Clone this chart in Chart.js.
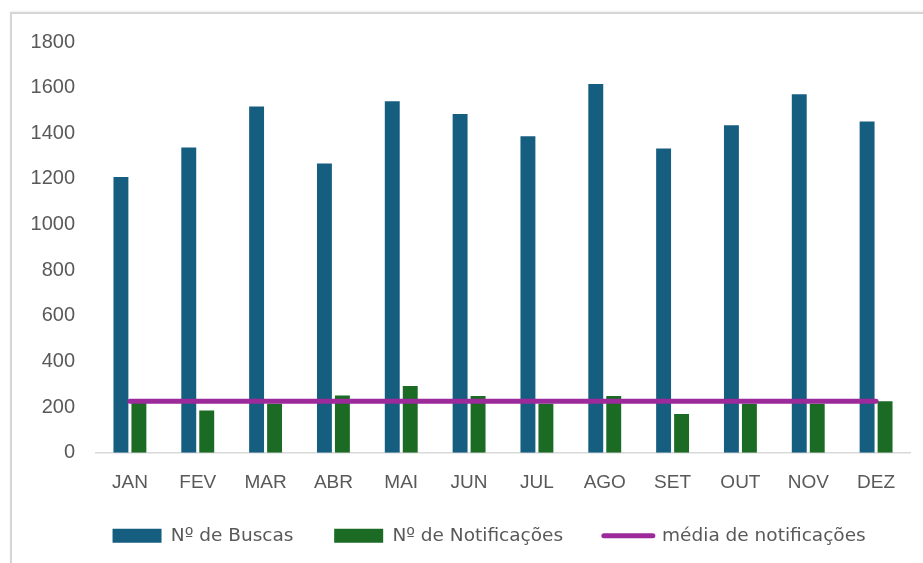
<!DOCTYPE html>
<html>
<head>
<meta charset="utf-8">
<script src="https://cdn.jsdelivr.net/npm/chart.js@4.4.1/dist/chart.umd.min.js"></script>
<style>
  html, body { margin: 0; padding: 0; background: #fff; }
  #wrap { position: relative; width: 923px; height: 563px; overflow: hidden; }
  #frame {
    position: absolute; left: 10px; top: 12px; width: 940px; height: 600px;
    border-top: 2px solid #d6d6d6; border-left: 2px solid #d6d6d6;
    box-shadow: 0 -1px 2px rgba(0,0,0,0.06);
  }
  #chart { position: absolute; left: 0; top: 0; }
</style>
</head>
<body>
<div id="wrap">
  <div id="frame"></div>
  <canvas id="chart" width="923" height="563"></canvas>
</div>
<script>
// months
const meses = ['JAN', 'FEV', 'MAR', 'ABR', 'MAI', 'JUN', 'JUL', 'AGO', 'SET', 'OUT', 'NOV', 'DEZ'];

// series
const buscas = [1208, 1338, 1517, 1267, 1540, 1484, 1387, 1616, 1333, 1435, 1571, 1452];
const notificacoes = [235, 185, 215, 251, 292, 248, 215, 248, 170, 215, 215, 226];
const mediaNotificacoes = [226, 226, 226, 226, 226, 226, 226, 226, 226, 226, 226, 226];

const legendNames = ['Nº de Buscas', 'Nº de Notificações', 'média de notificações'];

const AZUL = '#165e80';
const VERDE = '#1b6b25';
const ROXO = '#9c2a9a';
const TEXTO = '#595959';

// spacing after each legend text (padding also sets the vertical gap, so the room goes here)
const legendGaps = ['\u2003\u2002', '\u2003\u2002', '\u2003\u2002'];

const ctx = document.getElementById('chart').getContext('2d');

new Chart(ctx, {
    type: 'bar',
    data: {
        labels: meses,
        datasets: [
            {
                label: legendNames[0],
                data: buscas,
                backgroundColor: AZUL,
                order: 2,
                barPercentage: 0.83,
                categoryPercentage: 0.53
            },
            {
                label: legendNames[1],
                data: notificacoes,
                backgroundColor: VERDE,
                order: 2,
                barPercentage: 0.83,
                categoryPercentage: 0.53
            },
            {
                type: 'line',
                label: legendNames[2],
                data: mediaNotificacoes,
                borderColor: ROXO,
                backgroundColor: ROXO,
                borderWidth: 5,
                pointRadius: 0,
                borderCapStyle: 'round',
                order: 0
            }
        ]
    },
    options: {
        responsive: false,
        animation: false,
        layout: {
            padding: { left: 28, right: 13, top: 42, bottom: 8 }
        },
        plugins: {
            tooltip: { enabled: false },
            legend: {
                position: 'bottom',
                fullSize: false,
                labels: {
                    color: TEXTO,
                    font: { family: '"DejaVu Sans", sans-serif', size: 18.5 },
                    usePointStyle: true,
                    pointStyleWidth: 49,
                    boxHeight: 14,
                    padding: 13,
                    // keep legend order as in data
                    generateLabels: (chart) => chart.data.datasets.map((ds, i) => ({
                        text: ds.label + legendGaps[i],
                        fillStyle: ds.backgroundColor,
                        strokeStyle: ds.type === 'line' ? ds.borderColor : ds.backgroundColor,
                        lineWidth: ds.type === 'line' ? 5 : 0,
                        lineCap: 'round',
                        pointStyle: ds.type === 'line' ? 'line' : 'rect',
                        fontColor: TEXTO,
                        hidden: false,
                        datasetIndex: i
                    }))
                }
            }
        },
        scales: {
            x: {
                grid: { display: false, drawTicks: false },
                border: { display: true, color: '#d9d9d9', width: 1.5 },
                ticks: {
                    color: TEXTO,
                    font: { family: '"Liberation Sans", Arial, sans-serif', size: 19 },
                    padding: 19
                }
            },
            y: {
                min: 0,
                max: 1800,
                grid: { display: false, drawTicks: false },
                border: { display: false },
                ticks: {
                    stepSize: 200,
                    color: TEXTO,
                    font: { family: '"Liberation Sans", Arial, sans-serif', size: 20 },
                    padding: 21,
                    callback: (v) => String(v)
                },
                // axis box only as wide as label + padding
                afterFit: (scale) => { scale.width = 68; }
            }
        }
    }
});
</script>
</body>
</html>
